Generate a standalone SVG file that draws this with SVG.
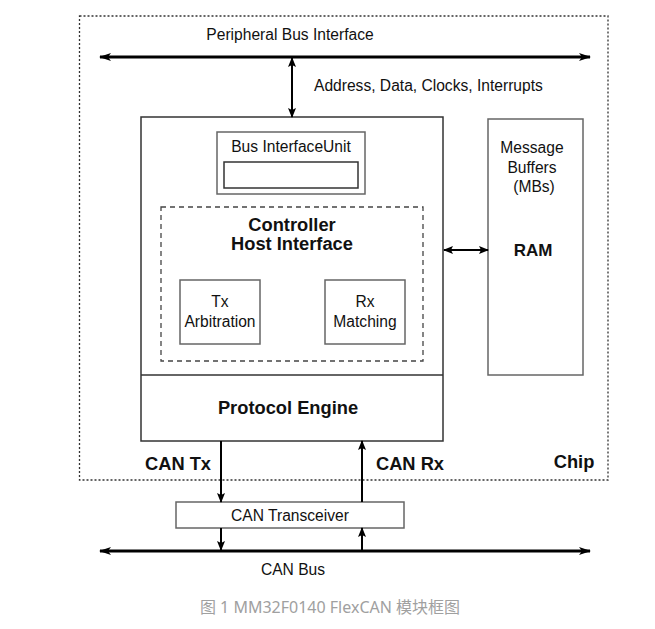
<svg xmlns="http://www.w3.org/2000/svg" width="655" height="629" viewBox="0 0 655 629">
<style>
text{font-family:"Liberation Sans",Arial,sans-serif;fill:#111;}
.r{font-size:15.6px;}
.b{font-size:18.3px;font-weight:bold;}
.box{fill:#fff;stroke:#333;stroke-width:1.5;}
.gbox{fill:#fff;stroke:#666;stroke-width:1.5;}
.ln{stroke:#000;stroke-width:2;fill:none;}
.bus{stroke:#000;stroke-width:2.8;fill:none;}
.cap{font-family:"Noto Sans","Noto Sans CJK SC",sans-serif;font-size:16px;fill:#a0a0a0;}
</style>
<defs>
<marker id="ah" viewBox="0 0 10 8" refX="9" refY="4" markerWidth="10" markerHeight="8" markerUnits="userSpaceOnUse" orient="auto-start-reverse">
<path d="M0,0 L10,4 L0,8 L2,4 Z" fill="#000"/>
</marker>
<marker id="ab" viewBox="0 0 12 8" refX="11" refY="4" markerWidth="12" markerHeight="8" markerUnits="userSpaceOnUse" orient="auto-start-reverse">
<path d="M0,0 L12,4 L0,8 L3,4 Z" fill="#000"/>
</marker>
</defs>
<rect width="655" height="629" fill="#fff"/>
<g id="chip">
<rect x="79.5" y="16" width="528.5" height="464" fill="none" stroke="#333" stroke-width="1.3" stroke-dasharray="2,2"/>
<text class="b" x="574" y="468" text-anchor="middle">Chip</text>
</g>
<g id="main">
<rect class="box" x="141" y="117" width="302" height="324"/>
<line x1="141" y1="375" x2="443" y2="375" stroke="#333" stroke-width="1.5"/>
<text class="b" x="288" y="414" text-anchor="middle">Protocol Engine</text>
</g>
<g id="biu">
<rect class="gbox" x="217" y="132" width="148" height="62"/>
<rect class="box" x="224" y="162" width="134" height="26"/>
<text class="r" x="291" y="152" text-anchor="middle">Bus InterfaceUnit</text>
</g>
<g id="chi">
<rect x="161" y="207" width="262" height="154" fill="none" stroke="#444" stroke-width="1.3" stroke-dasharray="5,4"/>
<text class="b" x="292" y="231" text-anchor="middle">Controller</text>
<text class="b" x="292" y="250" text-anchor="middle">Host Interface</text>
</g>
<g id="tx">
<rect class="gbox" x="180" y="280" width="80" height="64"/>
<text class="r" x="220" y="307" text-anchor="middle">Tx</text>
<text class="r" x="220" y="327" text-anchor="middle">Arbitration</text>
</g>
<g id="rx">
<rect class="gbox" x="325" y="280" width="80" height="64"/>
<text class="r" x="365" y="307" text-anchor="middle">Rx</text>
<text class="r" x="365" y="327" text-anchor="middle">Matching</text>
</g>
<g id="ram">
<rect class="gbox" x="488" y="119" width="95" height="256"/>
<text class="r" x="532" y="153" text-anchor="middle">Message</text>
<text class="r" x="532" y="173" text-anchor="middle">Buffers</text>
<text class="r" x="534" y="192" text-anchor="middle">(MBs)</text>
<text class="b" x="533" y="256" text-anchor="middle" style="font-size:17px">RAM</text>
</g>
<g id="transceiver">
<rect class="gbox" x="176" y="502" width="228" height="26"/>
<text class="r" x="290" y="521" text-anchor="middle">CAN Transceiver</text>
</g>
<g id="labels">
<text class="r" x="290" y="40" text-anchor="middle">Peripheral Bus Interface</text>
<text class="r" x="314" y="91">Address, Data, Clocks, Interrupts</text>
<text class="b" x="178" y="470" text-anchor="middle">CAN Tx</text>
<text class="b" x="410" y="470" text-anchor="middle">CAN Rx</text>
<text class="r" x="293" y="575" text-anchor="middle">CAN Bus</text>
<text class="cap" x="330" y="613" text-anchor="middle">图 1 MM32F0140 FlexCAN 模块框图</text>
</g>
<g id="connectors">
<line class="bus" x1="100" y1="57" x2="590" y2="57" marker-start="url(#ab)" marker-end="url(#ab)"/>
<line class="ln" x1="292" y1="58" x2="292" y2="117" marker-start="url(#ah)" marker-end="url(#ah)"/>
<line class="ln" x1="444" y1="250" x2="488" y2="250" marker-start="url(#ah)" marker-end="url(#ah)"/>
<line class="ln" x1="221" y1="441" x2="221" y2="502" marker-end="url(#ah)"/>
<line class="ln" x1="362" y1="502" x2="362" y2="441" marker-end="url(#ah)"/>
<line class="ln" x1="221" y1="528" x2="221" y2="550" marker-end="url(#ah)"/>
<line class="ln" x1="362" y1="550" x2="362" y2="528" marker-end="url(#ah)"/>
<line class="bus" x1="100" y1="551" x2="590" y2="551" marker-start="url(#ab)" marker-end="url(#ab)"/>
</g>
</svg>
